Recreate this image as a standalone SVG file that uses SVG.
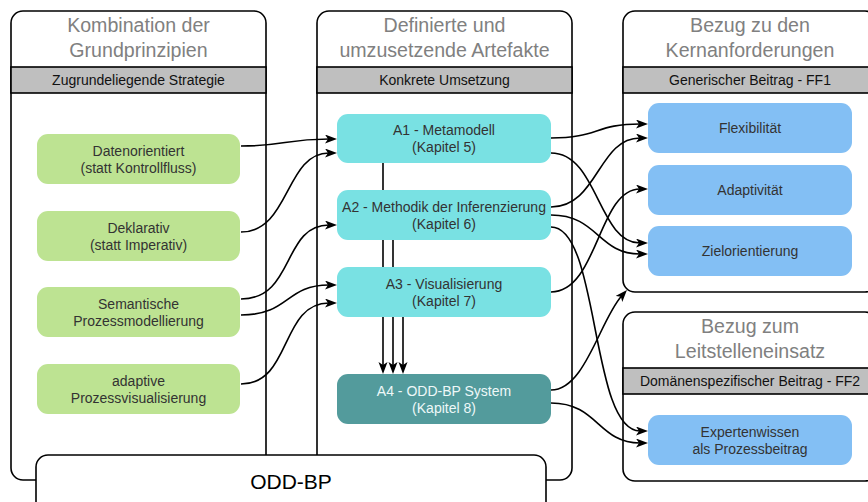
<svg xmlns="http://www.w3.org/2000/svg" width="868" height="502" viewBox="0 0 868 502">
  <defs>
    <marker id="arrow" markerUnits="userSpaceOnUse" markerWidth="14" markerHeight="11" refX="4" refY="4.5" orient="auto">
      <path d="M0,0 L12,4.5 L0,9 L3,4.5 z" fill="#000"/>
    </marker>
    <style>
      text { font-family: "Liberation Sans", Arial, Helvetica, sans-serif; text-anchor: middle; }
      .panel { fill: #fff; stroke: #000; stroke-width: 1.6; }
      .band { fill: #bfbfbf; stroke: #000; stroke-width: 1.6; }
      .title { font-size: 19.6px; fill: #808080; }
      .bandtxt { font-size: 14px; fill: #111; }
      .ntxt { font-size: 14px; fill: #333; }
      .green { fill: #bde392; }
      .cyan { fill: #79e1e3; }
      .teal { fill: #539b9c; }
      .blue { fill: #83bff4; }
      .light { fill: #eef8f8; }
      .conn path { fill: none; stroke: #000; stroke-width: 1.6; marker-end: url(#arrow); }
      .conn line { stroke: #000; stroke-width: 1.6; marker-end: url(#arrow); }
    </style>
  </defs>

  <!-- column frames -->
  <g id="col-strategie">
    <rect class="panel" x="11" y="11" width="255" height="469" rx="12"/>
    <rect class="band" x="11" y="67" width="255" height="26"/>
    <text class="title" x="138.5" y="32">Kombination der</text>
    <text class="title" x="138.5" y="57">Grundprinzipien</text>
    <text class="bandtxt" x="138.5" y="85">Zugrundeliegende Strategie</text>
  </g>
  <g id="col-umsetzung">
    <rect class="panel" x="317" y="11" width="255" height="469" rx="12"/>
    <rect class="band" x="317" y="67" width="255" height="26"/>
    <text class="title" x="444.5" y="32">Definierte und</text>
    <text class="title" x="444.5" y="57">umzusetzende Artefakte</text>
    <text class="bandtxt" x="444.5" y="85">Konkrete Umsetzung</text>
  </g>
  <g id="col-ff1">
    <rect class="panel" x="623" y="11" width="254" height="281" rx="12"/>
    <rect class="band" x="623" y="67" width="254" height="26"/>
    <text class="title" x="750" y="32">Bezug zu den</text>
    <text class="title" x="750" y="57">Kernanforderungen</text>
    <text class="bandtxt" x="750" y="85">Generischer Beitrag - FF1</text>
  </g>
  <g id="col-ff2">
    <rect class="panel" x="623" y="312" width="254" height="169" rx="12"/>
    <rect class="band" x="623" y="368" width="254" height="26"/>
    <text class="title" x="750" y="333">Bezug zum</text>
    <text class="title" x="750" y="358">Leitstelleneinsatz</text>
    <text class="bandtxt" x="750" y="386">Domänenspezifischer Beitrag - FF2</text>
  </g>

  <!-- connectors -->
  <g id="connectors" class="conn">
    <!-- strategy to artefacts -->
    <path d="M241,146 C285,146 285,139 329,139"/>
    <path d="M241,232 C290,232 285,153 329,153"/>
    <path d="M241,299 C295,299 282,225 329,225"/>
    <path d="M241,315 C290,315 285,285 329,285"/>
    <path d="M241,384 C292,384 280,303 329,303"/>
    <!-- artefacts into A4 -->
    <line x1="383" y1="163" x2="383" y2="366"/>
    <line x1="393" y1="240" x2="393" y2="366"/>
    <line x1="403" y1="317" x2="403" y2="366"/>
    <!-- artefacts to requirements -->
    <path d="M551,138 C598,138 595,124 640,124"/>
    <path d="M551,153 C598,153 598,243 640,243"/>
    <path d="M551,207 C598,207 598,138 640,138"/>
    <path d="M551,215 C598,215 598,254 640,254"/>
    <path d="M551,227 C600,227 590,431 640,431"/>
    <path d="M551,292 C598,292 598,189 640,189"/>
    <path d="M551,390 C585,390 600,320 621.6,296"/>
    <path d="M551,403 C598,403 598,443 640,443"/>
  </g>

  <!-- strategy nodes -->
  <g id="n-datenorientiert">
    <rect class="green" x="37" y="134" width="203" height="50" rx="11"/>
    <text class="ntxt" x="138.5" y="155.5">Datenorientiert</text>
    <text class="ntxt" x="138.5" y="172.5">(statt Kontrollfluss)</text>
  </g>
  <g id="n-deklarativ">
    <rect class="green" x="37" y="211" width="203" height="50" rx="11"/>
    <text class="ntxt" x="138.5" y="232.5">Deklarativ</text>
    <text class="ntxt" x="138.5" y="249.5">(statt Imperativ)</text>
  </g>
  <g id="n-semantisch">
    <rect class="green" x="37" y="287" width="203" height="50" rx="11"/>
    <text class="ntxt" x="138.5" y="308.5">Semantische</text>
    <text class="ntxt" x="138.5" y="325.5">Prozessmodellierung</text>
  </g>
  <g id="n-adaptiv">
    <rect class="green" x="37" y="364" width="203" height="50" rx="11"/>
    <text class="ntxt" x="138.5" y="385.5">adaptive</text>
    <text class="ntxt" x="138.5" y="402.5">Prozessvisualisierung</text>
  </g>

  <!-- artefact nodes -->
  <g id="n-a1">
    <rect class="cyan" x="337" y="114" width="214" height="49" rx="11"/>
    <text class="ntxt" x="444" y="135">A1 - Metamodell</text>
    <text class="ntxt" x="444" y="152">(Kapitel 5)</text>
  </g>
  <g id="n-a2">
    <rect class="cyan" x="337" y="190" width="214" height="50" rx="11"/>
    <text class="ntxt" x="444" y="211.5">A2 - Methodik der Inferenzierung</text>
    <text class="ntxt" x="444" y="228.5">(Kapitel 6)</text>
  </g>
  <g id="n-a3">
    <rect class="cyan" x="337" y="267" width="214" height="50" rx="11"/>
    <text class="ntxt" x="444" y="288.5">A3 - Visualisierung</text>
    <text class="ntxt" x="444" y="305.5">(Kapitel 7)</text>
  </g>
  <g id="n-a4">
    <rect class="teal" x="337" y="374" width="214" height="50" rx="11"/>
    <text class="ntxt light" x="444" y="395.5">A4 - ODD-BP System</text>
    <text class="ntxt light" x="444" y="412.5">(Kapitel 8)</text>
  </g>

  <!-- requirement nodes -->
  <g id="n-flexibilitaet">
    <rect class="blue" x="648" y="103" width="204" height="50" rx="11"/>
    <text class="ntxt" x="750" y="133">Flexibilität</text>
  </g>
  <g id="n-adaptivitaet">
    <rect class="blue" x="648" y="165" width="204" height="50" rx="11"/>
    <text class="ntxt" x="750" y="195">Adaptivität</text>
  </g>
  <g id="n-zielorientierung">
    <rect class="blue" x="648" y="226" width="204" height="50" rx="11"/>
    <text class="ntxt" x="750" y="256">Zielorientierung</text>
  </g>
  <g id="n-expertenwissen">
    <rect class="blue" x="648" y="415" width="204" height="50" rx="11"/>
    <text class="ntxt" x="750" y="436.5">Expertenwissen</text>
    <text class="ntxt" x="750" y="453.5">als Prozessbeitrag</text>
  </g>

  <!-- system bar -->
  <g id="n-odd-bp">
    <rect class="panel" x="36" y="455" width="510" height="62" rx="12"/>
    <text x="291" y="489" style="font-size:21px; fill:#000">ODD-BP</text>
  </g>
</svg>
